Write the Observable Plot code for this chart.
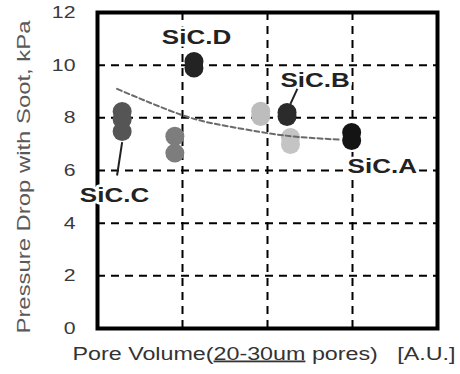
<!DOCTYPE html>
<html><head><meta charset="utf-8">
<script src="https://cdn.jsdelivr.net/npm/d3@7"></script>
<script src="https://cdn.jsdelivr.net/npm/@observablehq/plot@0.6"></script>
<style>
body{margin:0;background:#fff;}
#chart svg{display:block;}
</style></head><body><div id="chart"></div>
<script>
// --- data ---
const sampleGroup = ["SiC.C","SiC.C","SiC.C","Mid","Mid","SiC.D","SiC.D","Light1","Light1","SiC.B","SiC.B","Light2","Light2","SiC.A","SiC.A"];
const poreVolume = [0.29,0.29,0.29,0.91,0.91,1.135,1.135,1.92,1.92,2.23,2.23,2.27,2.27,2.99,2.99];
const pressureDrop = [8.24,7.94,7.48,7.30,6.66,10.14,9.89,8.25,8.05,8.2,8.05,7.25,6.99,7.44,7.14];
const groupOrder = ["SiC.C","Mid","SiC.D","Light1","SiC.B","Light2","SiC.A"];

const trendVolume = [0.23, 1.0, 1.5, 1.9, 2.2, 2.5, 2.86];
const trendDrop = [9.1, 8.1, 7.7, 7.47, 7.33, 7.24, 7.17];

const labelText = ["SiC.D","SiC.B","SiC.A","SiC.C"];
const labelVolume = [1.165, 2.56, 3.35, 0.2];
const labelDrop = [11.03, 9.4, 6.15, 5.05];

const leaderVolume1 = [0.29, 2.37];
const leaderDrop1 = [7.08, 9.23];
const leaderVolume2 = [0.23, 2.27];
const leaderDrop2 = [5.81, 8.53];

const yTicks = [0,2,4,6,8,10,12];
const xGrid = [1,2,3];
const yTitle = "Pressure Drop with Soot, kPa";
const xTitleParts = ["Pore Volume(", "20-30um", " pores)\u00a0\u00a0\u00a0[A.U.]"];
const xTitle = xTitleParts.join("");

// --- build tables ---
const points = poreVolume.map((v,i)=>({x:v, y:pressureDrop[i], g:sampleGroup[i]}));
const trend = trendVolume.map((v,i)=>({x:v, y:trendDrop[i]}));
const labels = labelText.map((t,i)=>({t, x:labelVolume[i], y:labelDrop[i]}));
const leaders = leaderVolume1.map((v,i)=>({x1:v, y1:leaderDrop1[i], x2:leaderVolume2[i], y2:leaderDrop2[i]}));

const svg = Plot.plot({
  width:460, height:374,
  marginLeft:97, marginRight:23, marginTop:12, marginBottom:46,
  x:{domain:[0,4], axis:null},
  y:{domain:[0,12], axis:null},
  color:{domain:groupOrder, range:["#555555","#7d7d7d","#232323","#bdbdbd","#2b2b2b","#c4c4c4","#141414"]},
  style:{fontFamily:"'Liberation Sans', Arial, sans-serif", fontSize:"16px", background:"#fff"},
  marks:[
    Plot.gridY(yTicks.filter(d=>d>0 && d<12), {stroke:"#000", strokeOpacity:1, strokeWidth:2, strokeDasharray:"8,6"}),
    Plot.gridX(xGrid, {stroke:"#000", strokeOpacity:1, strokeWidth:2, strokeDasharray:"8,6"}),
    Plot.frame({stroke:"#000", strokeWidth:4}),
    Plot.axisY(yTicks, {tickSize:0, tickPadding:22, fill:"#3a3a3a", fontSize:17, label:null}),
    Plot.dot(points, {x:"x", y:"y", r:9.5, fill:"g", stroke:null}),
    Plot.line(trend, {x:"x", y:"y", curve:"natural", stroke:"#6a6a6a", strokeWidth:2, strokeDasharray:"5,3"}),
    Plot.link(leaders, {x1:"x1", y1:"y1", x2:"x2", y2:"y2", stroke:"#222", strokeWidth:2}),
    Plot.text(labels, {x:"x", y:"y", text:"t", fontSize:20, fontWeight:"bold", fill:"#222", stroke:"white", strokeWidth:5}),
    Plot.text([yTitle], {frameAnchor:"bottom-left", textAnchor:"start", dx:-68, dy:5, rotate:-90, fontSize:18, fill:"#5a5a5a"}),
    Plot.text([xTitle], {frameAnchor:"bottom-left", textAnchor:"start", dx:-25, dy:31, fontSize:18, fill:"#333"})
  ]
});

const s = d3.select(svg);
const tickStrings = yTicks.map(String);
const widen = (el, k) => {
  const tr = el.attr("transform") || "";
  el.attr("transform", tr + ` scale(${k},1)`);
};
s.selectAll("text").each(function(){
  const el = d3.select(this);
  const t = this.textContent;
  if (tickStrings.includes(t)) widen(el, 1.25);
  else if (labelText.includes(t)) widen(el, 1.3);
  else if (t === yTitle) el.attr("textLength",313).attr("lengthAdjust","spacingAndGlyphs");
  else if (t === xTitle) {
    el.text(null);
    xTitleParts.forEach((p,i)=>{
      const ts = el.append("tspan").text(p);
      if(i===1) ts.attr("text-decoration","underline");
    });
    el.attr("textLength",383).attr("lengthAdjust","spacingAndGlyphs");
  }
});

document.getElementById("chart").appendChild(svg);
</script>
</body></html>
